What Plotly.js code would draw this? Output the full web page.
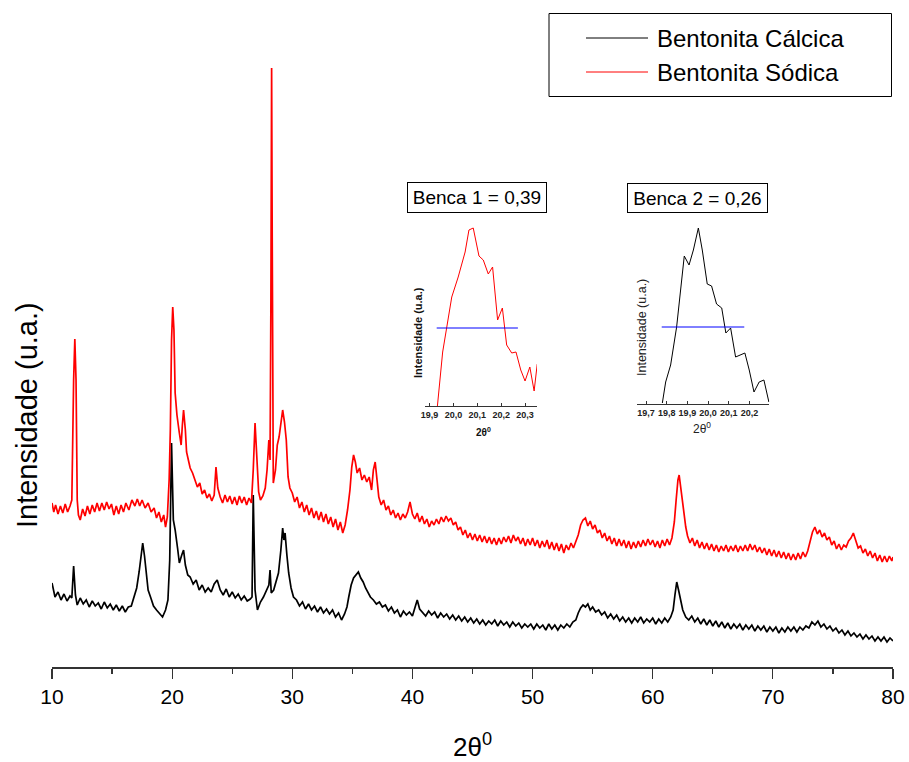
<!DOCTYPE html>
<html>
<head>
<meta charset="utf-8">
<script src="https://cdn.plot.ly/plotly-3.0.1.min.js"></script>
<style>html,body{margin:0;padding:0;background:#fff;}#chart{width:909px;height:762px;}</style>
</head>
<body>
<div id="chart"></div>
<script>
// ---------- DATA ----------
const seriesNames = ["Bentonita Cálcica", "Bentonita Sódica"];

const calcicaTheta = [10.0,10.1,10.25,10.5,10.75,11.0,11.25,11.5,11.65,11.8,11.95,12.1,12.35,12.6,12.85,13.1,13.35,13.6,13.85,14.1,14.35,14.6,14.85,15.1,15.35,15.6,15.85,16.1,16.35,16.6,16.85,17.05,17.25,17.45,17.55,17.7,17.85,18.0,18.2,18.45,18.7,18.95,19.2,19.45,19.65,19.8,19.95,20.1,20.25,20.45,20.6,20.8,20.95,21.1,21.3,21.5,21.75,22.0,22.25,22.5,22.75,23.0,23.25,23.5,23.75,24.0,24.25,24.5,24.75,25.0,25.25,25.5,25.75,26.0,26.25,26.5,26.65,26.75,26.9,27.1,27.35,27.6,27.85,28.05,28.15,28.25,28.45,28.65,28.85,29.05,29.2,29.3,29.4,29.55,29.7,29.9,30.1,30.35,30.6,30.85,31.1,31.35,31.6,31.85,32.1,32.35,32.6,32.85,33.1,33.35,33.6,33.85,34.1,34.35,34.55,34.7,34.9,35.1,35.3,35.5,35.7,35.9,36.1,36.3,36.5,36.75,37.0,37.25,37.5,37.75,38.0,38.25,38.5,38.75,39.0,39.25,39.5,39.75,40.0,40.2,40.4,40.6,40.85,41.1,41.35,41.6,41.85,42.1,42.35,42.6,42.85,43.1,43.35,43.6,43.85,44.1,44.35,44.6,44.85,45.1,45.35,45.6,45.85,46.1,46.35,46.6,46.85,47.1,47.35,47.6,47.85,48.1,48.35,48.6,48.85,49.1,49.35,49.6,49.85,50.1,50.35,50.6,50.85,51.1,51.35,51.6,51.85,52.1,52.35,52.6,52.85,53.1,53.35,53.6,53.8,54.0,54.2,54.4,54.6,54.8,55.0,55.25,55.5,55.75,56.0,56.25,56.5,56.75,57.0,57.25,57.5,57.75,58.0,58.25,58.5,58.75,59.0,59.25,59.5,59.75,60.0,60.25,60.5,60.75,61.0,61.25,61.5,61.7,61.85,62.0,62.15,62.3,62.5,62.75,63.0,63.25,63.5,63.75,64.0,64.25,64.5,64.75,65.0,65.25,65.5,65.75,66.0,66.25,66.5,66.75,67.0,67.25,67.5,67.75,68.0,68.25,68.5,68.75,69.0,69.25,69.5,69.75,70.0,70.25,70.5,70.75,71.0,71.25,71.5,71.75,72.0,72.25,72.5,72.75,73.0,73.25,73.5,73.75,74.0,74.25,74.5,74.75,75.0,75.25,75.5,75.75,76.0,76.25,76.5,76.75,77.0,77.25,77.5,77.75,78.0,78.25,78.5,78.75,79.0,79.25,79.5,79.75,80.0];
const calcicaInt = [84,77,70,75,67,73,66,71,69,101,72,62,69,63,67,60,66,61,64,58,65,59,63,57,62,56,61,55,60,61,70,79,95,119,124,111,90,77,70,61,57,53,50,57,67,107,224,147,137,119,104,112,117,102,92,90,83,87,77,82,75,79,75,83,87,77,72,78,70,75,69,73,67,71,66,68,70,172,77,57,65,70,77,82,97,74,77,87,94,117,139,127,134,112,94,79,70,67,61,65,58,63,57,61,55,60,54,58,53,57,50,54,47,53,60,70,82,89,92,95,89,85,79,75,70,67,63,65,60,62,56,60,54,57,50,56,52,55,51,59,67,58,55,51,56,52,55,49,54,50,53,48,52,47,51,46,50,45,49,44,48,43,47,42,46,43,47,41,46,42,45,40,45,41,44,39,43,40,43,38,43,39,42,37,43,38,42,37,42,39,43,40,45,47,54,59,62,60,63,57,60,55,57,52,55,49,53,48,52,46,50,45,49,44,49,45,50,44,48,45,49,43,48,44,49,45,50,57,72,85,77,67,57,50,47,51,45,49,43,48,42,47,41,46,40,45,39,44,38,43,39,43,37,42,38,42,36,41,37,41,35,40,36,40,34,39,35,40,36,40,35,40,37,41,39,45,42,46,40,43,38,41,36,39,34,37,32,36,31,34,30,33,28,32,28,31,26,30,26,30,25,29,26];

const sodicaTheta = [10.0,10.15,10.3,10.5,10.7,10.9,11.1,11.3,11.5,11.65,11.8,11.9,12.0,12.1,12.2,12.35,12.55,12.75,12.95,13.15,13.35,13.55,13.75,13.95,14.15,14.35,14.55,14.75,14.95,15.15,15.35,15.55,15.75,15.95,16.15,16.4,16.65,16.9,17.1,17.3,17.5,17.75,18.0,18.25,18.5,18.7,18.9,19.1,19.3,19.45,19.6,19.75,19.85,19.95,20.05,20.15,20.25,20.4,20.6,20.75,20.85,20.95,21.1,21.2,21.35,21.5,21.7,21.9,22.1,22.3,22.5,22.7,22.9,23.1,23.3,23.5,23.65,23.8,24.0,24.2,24.4,24.6,24.8,25.0,25.2,25.4,25.6,25.8,26.0,26.2,26.4,26.6,26.75,26.9,27.05,27.2,27.35,27.55,27.75,27.9,28.05,28.15,28.22,28.28,28.33,28.42,28.6,28.75,28.9,29.05,29.2,29.35,29.5,29.65,29.8,30.0,30.2,30.4,30.6,30.8,31.0,31.2,31.4,31.6,31.8,32.0,32.2,32.4,32.6,32.8,33.0,33.2,33.4,33.6,33.8,34.0,34.2,34.4,34.6,34.8,34.95,35.1,35.25,35.4,35.6,35.8,36.0,36.2,36.4,36.6,36.75,36.9,37.05,37.2,37.4,37.6,37.8,38.0,38.2,38.4,38.6,38.8,39.0,39.2,39.4,39.6,39.8,40.0,40.2,40.4,40.6,40.8,41.0,41.2,41.4,41.6,41.8,42.0,42.2,42.4,42.6,42.8,43.0,43.2,43.4,43.6,43.8,44.0,44.2,44.4,44.6,44.8,45.0,45.2,45.4,45.6,45.8,46.0,46.2,46.4,46.6,46.8,47.0,47.2,47.4,47.6,47.8,48.0,48.2,48.4,48.6,48.8,49.0,49.2,49.4,49.6,49.8,50.0,50.2,50.4,50.6,50.8,51.0,51.2,51.4,51.6,51.8,52.0,52.2,52.4,52.6,52.8,53.0,53.2,53.4,53.6,53.8,54.0,54.2,54.4,54.6,54.8,55.0,55.2,55.4,55.6,55.8,56.0,56.2,56.4,56.6,56.8,57.0,57.2,57.4,57.6,57.8,58.0,58.2,58.4,58.6,58.8,59.0,59.2,59.4,59.6,59.8,60.0,60.2,60.4,60.6,60.8,61.0,61.2,61.4,61.6,61.8,61.95,62.1,62.2,62.3,62.45,62.6,62.75,62.9,63.1,63.3,63.5,63.7,63.9,64.1,64.3,64.5,64.7,64.9,65.1,65.3,65.5,65.7,65.9,66.1,66.3,66.5,66.7,66.9,67.1,67.3,67.5,67.7,67.9,68.1,68.3,68.5,68.7,68.9,69.1,69.3,69.5,69.7,69.9,70.1,70.3,70.5,70.7,70.9,71.1,71.3,71.5,71.7,71.9,72.1,72.3,72.5,72.7,72.9,73.1,73.3,73.5,73.7,73.9,74.1,74.3,74.5,74.7,74.9,75.1,75.3,75.5,75.7,75.9,76.1,76.3,76.5,76.7,76.9,77.1,77.3,77.5,77.7,77.9,78.1,78.3,78.5,78.7,78.9,79.1,79.3,79.5,79.7,79.9,80.0];
const sodicaInt = [164,155,162,153,161,154,163,155,161,167,287,328,287,167,152,147,158,151,161,153,162,155,164,156,164,157,165,158,163,152,161,153,162,155,164,157,167,161,168,161,167,159,164,155,159,149,155,145,152,140,150,187,237,327,360,337,274,252,234,222,242,257,237,215,207,199,194,187,180,184,173,177,169,173,166,172,200,179,170,164,172,165,171,163,170,162,171,164,170,162,169,164,197,244,212,175,167,171,179,197,227,207,367,599,429,184,197,222,230,247,257,245,227,190,179,174,165,170,159,165,155,162,152,159,149,156,147,155,145,153,143,150,140,148,137,145,134,142,157,177,200,212,205,194,199,187,192,185,190,177,197,205,189,170,162,167,157,161,152,157,149,154,147,153,149,155,165,153,148,154,145,151,143,148,140,146,142,148,143,150,145,151,146,149,142,145,137,140,132,137,129,134,127,133,126,132,125,131,124,130,123,129,122,129,123,130,125,131,124,132,126,130,123,129,121,128,122,129,121,127,119,126,120,127,118,125,117,124,116,123,114,122,117,124,119,126,132,142,147,149,141,146,138,142,134,137,129,134,126,131,123,129,121,128,121,127,119,126,118,125,119,126,120,127,121,128,122,127,120,126,119,127,121,128,122,129,145,167,187,192,182,167,152,140,131,124,129,121,127,119,125,118,124,117,123,116,122,115,121,116,122,115,121,116,122,115,121,116,122,116,123,117,122,115,120,114,119,112,118,111,117,110,116,109,115,108,114,107,113,107,114,108,115,110,116,127,135,140,133,137,130,134,127,130,122,126,118,123,117,122,120,126,129,134,127,119,121,114,118,111,116,109,114,106,112,105,111,105,111,106,110];

// inset 1: Bentonita Sódica around the 20° reflection (FWHM 0,39)
const benca1Theta = [19.933,19.955,19.993,20.02,20.049,20.065,20.083,20.107,20.125,20.146,20.164,20.185,20.205,20.223,20.244,20.262,20.282,20.3,20.32,20.338,20.351];
const benca1Int   = [0,54,109,129,154,176,178,150,146,132,139,86,98,61,53,54,36,25,39,15,42];
const benca1HalfTheta = [19.93, 20.27];
const benca1HalfInt   = [78, 78];
const benca1Label = "Benca 1 = 0,39";
const benca1Ticks = [19.9, 20.0, 20.1, 20.2, 20.3];
const benca1TickText = ["19,9", "20,0", "20,1", "20,2", "20,3"];

// inset 2: Bentonita Cálcica around the 20° reflection (FWHM 0,26)
const benca2Theta = [19.779,19.795,19.819,19.848,19.885,19.908,19.929,19.953,19.972,19.996,20.017,20.041,20.066,20.086,20.109,20.133,20.178,20.199,20.222,20.247,20.27,20.294];
const benca2Int   = [1,22,39,77,148,139,154,176,154,120,118,100,96,71,76,47,51,34,12,22,24,2];
const benca2HalfTheta = [19.776, 20.175];
const benca2HalfInt   = [77, 77];
const benca2Label = "Benca 2 = 0,26";
const benca2Ticks = [19.7, 19.8, 19.9, 20.0, 20.1, 20.2];
const benca2TickText = ["19,7", "19,8", "19,9", "20,0", "20,1", "20,2"];

const mainTicks = [10, 20, 30, 40, 50, 60, 70, 80];

// ---------- LAYOUT HELPERS (pixel -> paper) ----------
const W = 909, H = 762, ML = 52, MR = 16, MT = 10, MB = 95;
const PW = W - ML - MR, PH = H - MT - MB;
const fx = px => (px - ML) / PW;
const fy = py => (H - MB - py) / PH;
const FONT = "Liberation Sans, Arial, sans-serif";

const traces = [
  {x: calcicaTheta, y: calcicaInt, type: "scatter", mode: "lines", name: seriesNames[0],
   line: {color: "#000000", width: 1.7}, xaxis: "x", yaxis: "y", showlegend: false},
  {x: sodicaTheta, y: sodicaInt, type: "scatter", mode: "lines", name: seriesNames[1],
   line: {color: "#ff0000", width: 1.7}, xaxis: "x", yaxis: "y", showlegend: false},
  {x: benca1Theta, y: benca1Int, type: "scatter", mode: "lines", name: benca1Label,
   line: {color: "#ff0000", width: 1}, xaxis: "x2", yaxis: "y2", showlegend: false},
  {x: benca1HalfTheta, y: benca1HalfInt, type: "scatter", mode: "lines", name: "FWHM 1",
   line: {color: "#0000ff", width: 1}, xaxis: "x2", yaxis: "y2", showlegend: false},
  {x: benca2Theta, y: benca2Int, type: "scatter", mode: "lines", name: benca2Label,
   line: {color: "#000000", width: 1}, xaxis: "x3", yaxis: "y3", showlegend: false},
  {x: benca2HalfTheta, y: benca2HalfInt, type: "scatter", mode: "lines", name: "FWHM 2",
   line: {color: "#0000ff", width: 1}, xaxis: "x3", yaxis: "y3", showlegend: false}
];

const hiddenY = {showline: false, showticklabels: false, ticks: "", showgrid: false, zeroline: false};

const layout = {
  width: W, height: H,
  margin: {l: ML, r: MR, t: MT, b: MB},
  paper_bgcolor: "#ffffff", plot_bgcolor: "#ffffff",
  font: {family: FONT, color: "#000"},
  showlegend: false,
  xaxis: {
    range: [10, 80], domain: [0, 1], anchor: "y",
    tickvals: mainTicks, ticks: "outside", ticklen: 10, tickwidth: 1.2, tickcolor: "#333",
    minor: {dtick: 5, ticks: "outside", ticklen: 5, tickwidth: 1.2, tickcolor: "#333", showgrid: false},
    showline: true, linecolor: "#333", linewidth: 1.5, showgrid: false, zeroline: false,
    tickfont: {size: 21, color: "#000", family: FONT},
    title: {text: "2θ<sup>0</sup>", font: {size: 26, color: "#000", family: FONT}, standoff: 33}
  },
  yaxis: Object.assign({range: [0, PH], domain: [0, 1], anchor: "x"}, hiddenY),
  xaxis2: {
    range: [19.881, 20.35], domain: [fx(425), fx(537)], anchor: "y2",
    tickvals: benca1Ticks, ticktext: benca1TickText, ticks: "inside", ticklen: 3, tickcolor: "#333",
    showline: true, linecolor: "#333", linewidth: 1, showgrid: false, zeroline: false,
    tickfont: {size: 9, color: "#222", family: FONT, weight: "bold"}
  },
  yaxis2: Object.assign({range: [0, 185], domain: [fy(406), fy(221)], anchor: "x2"}, hiddenY),
  xaxis3: {
    range: [19.655, 20.296], domain: [fx(636.7), fx(769.3)], anchor: "y3",
    tickvals: benca2Ticks, ticktext: benca2TickText, ticks: "inside", ticklen: 3, tickcolor: "#333",
    showline: true, linecolor: "#333", linewidth: 1, showgrid: false, zeroline: false,
    tickfont: {size: 9, color: "#222", family: FONT, weight: "bold"}
  },
  yaxis3: Object.assign({range: [0, 183], domain: [fy(404), fy(221)], anchor: "x3"}, hiddenY),
  shapes: [
    {type: "rect", xref: "paper", yref: "paper", x0: fx(549), x1: fx(891.5), y0: fy(96.5), y1: fy(13.5),
     line: {color: "#000", width: 1}, fillcolor: "rgba(0,0,0,0)"},
    {type: "line", xref: "paper", yref: "paper", x0: fx(586), x1: fx(648), y0: fy(38), y1: fy(38),
     line: {color: "#000000", width: 1}},
    {type: "line", xref: "paper", yref: "paper", x0: fx(586), x1: fx(648), y0: fy(72), y1: fy(72),
     line: {color: "#ff0000", width: 1}}
  ],
  annotations: [
    {xref: "paper", yref: "paper", x: fx(27), y: fy(415), xanchor: "center", yanchor: "middle", textangle: -90,
     text: "Intensidade (u.a.)", showarrow: false, font: {size: 29, color: "#000", family: FONT}},
    {xref: "paper", yref: "paper", x: fx(655), y: fy(38), xanchor: "left", yanchor: "middle",
     text: seriesNames[0], showarrow: false, font: {size: 24, color: "#000", family: FONT}},
    {xref: "paper", yref: "paper", x: fx(655), y: fy(72), xanchor: "left", yanchor: "middle",
     text: seriesNames[1], showarrow: false, font: {size: 24, color: "#000", family: FONT}},
    {xref: "paper", yref: "paper", x: fx(477), y: fy(197.5), xanchor: "center", yanchor: "middle",
     text: benca1Label, showarrow: false, width: 138, height: 29, bordercolor: "#000", borderwidth: 1, borderpad: 0,
     font: {size: 19, color: "#000", family: FONT}},
    {xref: "paper", yref: "paper", x: fx(697.5), y: fy(198), xanchor: "center", yanchor: "middle",
     text: benca2Label, showarrow: false, width: 139, height: 28, bordercolor: "#000", borderwidth: 1, borderpad: 0,
     font: {size: 19, color: "#000", family: FONT}},
    {xref: "paper", yref: "paper", x: fx(418), y: fy(333), xanchor: "center", yanchor: "middle", textangle: -90,
     text: "<b>Intensidade (u.a.)</b>", showarrow: false, font: {size: 11, color: "#111", family: FONT}},
    {xref: "paper", yref: "paper", x: fx(483), y: fy(432), xanchor: "center", yanchor: "middle",
     text: "<b>2θ<sup>0</sup></b>", showarrow: false, font: {size: 10, color: "#111", family: FONT}},
    {xref: "paper", yref: "paper", x: fx(642), y: fy(328), xanchor: "center", yanchor: "middle", textangle: -90,
     text: "Intensidade (u.a.)", showarrow: false, font: {size: 12.5, color: "#222", family: FONT}},
    {xref: "paper", yref: "paper", x: fx(702), y: fy(428), xanchor: "center", yanchor: "middle",
     text: "2θ<sup>0</sup>", showarrow: false, font: {size: 12, color: "#222", family: FONT}}
  ]
};

Plotly.newPlot("chart", traces, layout, {staticPlot: true, displayModeBar: false});
</script>
</body>
</html>
